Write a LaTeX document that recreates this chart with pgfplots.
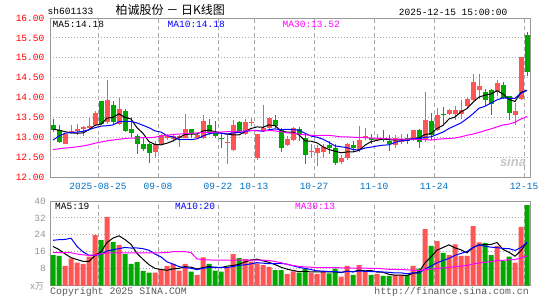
\documentclass[border=0pt]{standalone}
\usepackage{pgfplots}
\pgfplotsset{compat=1.18}
\usepackage{pgfplotstable}
\usepackage{fontspec}
\setmainfont{Liberation Sans}
\newfontfamily\mono{Liberation Mono}
\newfontfamily\cjk{Noto Sans CJK SC}
\definecolor{upc}{RGB}{255,85,85}
\definecolor{dnc}{RGB}{0,168,0}
\definecolor{lblred}{RGB}{255,0,0}
\definecolor{lblblue}{RGB}{0,112,192}
\definecolor{framec}{RGB}{153,153,153}
\definecolor{gridc}{RGB}{168,168,168}
\definecolor{ma10c}{RGB}{0,0,255}
\definecolor{ma30c}{RGB}{255,0,255}
\definecolor{volc}{RGB}{150,150,150}
\definecolor{footc}{RGB}{90,90,90}

\pgfplotstableread{
i o h l c v
2 12.83 13.09 12.82 13.07 9.3
3 13.13 13.30 13.08 13.16 12.9
4 13.15 13.33 13.05 13.20 10.8
5 13.20 13.28 13.02 13.26 10.2
6 13.24 13.49 13.18 13.28 13.7
7 13.32 13.67 13.28 13.60 23.8
9 13.38 14.43 13.33 13.93 32.5
11 13.33 14.00 13.30 13.70 19.1
17 12.62 12.90 12.51 12.83 6.1
18 12.83 13.09 12.80 13.05 7.7
19 12.97 13.07 12.92 13.03 9.3
20 12.96 13.06 12.88 13.03 10.2
21 12.99 13.05 12.75 13.02 7.1
22 12.99 13.58 12.97 13.22 10.2
24 12.98 13.10 12.95 13.05 5.0
25 12.98 13.57 12.95 13.41 13.3
29 12.87 13.05 12.33 12.89 8.6
30 12.68 13.44 12.65 13.30 14.9
32 13.09 13.47 13.06 13.38 12.6
33 13.37 13.48 13.28 13.39 11.3
34 12.49 13.09 12.42 13.07 10.5
35 13.16 13.80 13.14 13.24 9.7
36 13.24 13.51 13.22 13.48 8.8
39 12.80 13.03 12.78 12.95 5.5
40 12.93 13.27 12.90 13.24 6.7
43 12.64 12.83 12.49 12.66 6.0
44 12.61 12.80 12.28 12.74 5.5
45 12.63 12.83 12.49 12.76 6.9
48 12.38 12.55 12.33 12.49 4.2
49 12.49 12.86 12.44 12.83 9.3
51 12.68 13.28 12.63 12.93 9.7
52 12.97 13.24 12.92 13.02 6.6
54 12.93 13.08 12.90 12.99 5.5
57 12.80 13.05 12.74 12.97 4.9
58 12.88 13.08 12.84 12.95 4.9
60 12.93 13.19 12.91 13.17 9.3
62 12.93 14.15 12.88 13.43 26.7
64 13.18 13.73 13.15 13.57 21.0
66 13.59 13.72 13.55 13.68 14.4
67 13.58 13.78 13.43 13.69 19.5
68 13.58 13.93 13.45 13.69 14.0
69 13.78 14.01 13.74 13.96 14.0
70 13.93 14.59 13.90 14.40 28.1
71 14.19 14.59 13.97 14.30 20.4
74 14.13 14.43 14.05 14.375 18.8
77 13.55 13.86 13.30 13.66 10.8
78 13.97 15.02 13.93 15.01 27.8
}\up

\pgfplotstableread{
i o h l c v
0 13.30 13.45 13.12 13.18 14.4
1 13.18 13.30 12.86 12.88 14.0
8 13.91 13.92 13.30 13.33 21.5
10 13.80 13.91 13.34 13.38 20.7
12 13.65 13.70 13.12 13.16 14.9
13 13.20 13.50 13.01 13.11 10.2
14 13.03 13.09 12.58 12.84 11.1
15 12.82 13.00 12.66 12.71 6.9
16 12.82 12.85 12.36 12.61 6.1
23 13.20 13.22 12.97 13.09 6.6
26 13.30 13.45 13.05 13.13 10.2
27 13.12 13.40 12.98 13.02 7.1
28 12.99 13.09 12.74 12.95 6.6
31 13.38 13.41 13.12 13.16 13.0
37 13.43 13.55 13.24 13.28 7.3
38 13.18 13.24 12.63 12.72 7.3
41 13.21 13.26 12.91 13.09 6.1
42 12.97 13.10 12.33 12.55 8.0
46 12.80 12.91 12.59 12.74 5.8
47 12.72 12.83 12.30 12.34 8.0
50 12.80 12.91 12.63 12.74 5.0
53 12.97 13.08 12.84 12.93 5.0
55 12.97 13.17 12.88 12.95 4.6
56 12.90 13.05 12.66 12.83 4.6
59 12.97 13.09 12.84 12.91 4.9
61 13.17 13.22 12.74 12.88 8.0
63 13.40 13.62 12.93 13.05 18.7
65 13.59 13.76 13.34 13.57 15.5
72 14.15 14.22 13.78 13.93 20.2
73 14.18 14.22 13.57 13.84 14.4
75 14.32 14.38 13.95 13.99 11.6
76 14.03 14.05 13.43 13.61 13.7
79 15.56 15.66 14.55 14.63 38.0
}\down

\pgfplotstableread{
i m5 m10 m30 v5 v10 v30
0 13.20 12.93 12.69 18.5 21.4 15.6
1 13.18 13.03 12.71 17.0 21.7 15.6
2 13.14 13.10 12.73 15.0 21.8 15.6
3 13.11 13.12 12.74 13.2 22.4 15.5
4 13.10 13.13 12.76 12.28 18.5 14.9
5 13.11 13.15 12.78 11.44 15.9 14.5
6 13.19 13.19 12.81 11.38 14.3 14.3
7 13.30 13.24 12.85 14.28 14.3 14.4
8 13.33 13.28 12.88 16.0 14.8 15.0
9 13.48 13.29 12.91 20.34 16.31 15.4
10 13.50 13.31 12.93 22.44 16.94 15.5
11 13.59 13.39 12.95 23.52 17.45 15.5
12 13.50 13.40 12.97 21.74 18.01 15.5
13 13.46 13.40 12.98 19.48 17.74 15.5
14 13.24 13.36 12.98 15.2 17.77 15.5
15 13.10 13.30 12.99 12.44 17.44 15.5
16 12.89 13.24 12.99 9.84 16.68 15.5
17 12.82 13.16 13.00 8.08 14.91 15.5
18 12.81 13.13 13.03 7.58 13.53 15.5
19 12.85 13.04 13.05 7.22 11.21 15.6
20 12.91 13.01 13.07 7.88 10.16 16.0
21 12.99 12.94 13.08 8.08 8.96 16.1
22 13.07 12.95 13.09 8.9 8.49 16.0
23 13.08 12.94 13.10 8.68 8.13 15.6
24 13.08 12.96 13.11 7.82 7.52 12.6
25 13.16 13.03 13.12 8.44 8.16 12.2
26 13.18 13.09 13.12 9.06 8.57 12.1
27 13.14 13.11 13.13 8.44 8.67 12.0
28 13.11 13.10 13.13 8.44 8.56 12.0
29 13.08 13.08 13.14 9.16 8.49 12.00
30 13.06 13.11 13.14 9.48 8.96 12.02
31 13.06 13.12 13.15 10.04 9.55 11.99
32 13.14 13.14 13.16 11.14 9.79 12.10
33 13.22 13.17 13.17 12.08 10.26 12.04
34 13.26 13.17 13.16 12.46 10.81 12.04
35 13.25 13.15 13.16 11.68 10.58 12.01
36 13.31 13.19 13.17 10.96 10.36 11.84
37 13.29 13.21 13.16 9.92 10.37 11.31
38 13.16 13.19 13.14 8.66 10.45 10.84
39 13.13 13.20 13.11 7.72 10.14 9.94
40 13.13 13.19 13.10 7.12 9.34 9.48
41 13.06 13.18 13.08 6.56 8.59 9.03
42 12.91 13.10 13.06 6.72 8.11 8.79
43 12.90 13.03 13.05 6.42 7.54 8.64
44 12.86 13.00 13.04 6.46 6.94 8.46
45 12.76 12.95 13.05 6.5 6.79 8.45
46 12.69 12.87 13.05 6.44 6.60 8.43
47 12.65 12.78 13.03 6.44 6.58 8.49
48 12.61 12.76 13.01 6.08 6.26 8.37
49 12.63 12.74 13.01 6.84 6.67 8.39
50 12.63 12.69 13.00 6.46 6.48 8.22
51 12.67 12.68 13.00 7.24 6.86 8.31
52 12.80 12.73 12.99 6.96 6.7 8.19
53 12.89 12.75 12.98 7.12 6.6 8.13
54 12.92 12.78 12.98 6.36 6.6 8.15
55 12.96 12.80 12.97 6.28 6.37 7.86
56 12.94 12.81 12.96 5.26 6.25 7.67
57 12.93 12.87 12.95 4.92 5.94 7.6
58 12.94 12.91 12.95 4.9 6.01 7.54
59 12.92 12.92 12.95 4.78 5.57 7.42
60 12.97 12.97 12.95 5.72 6.0 7.23
61 12.98 12.96 12.94 6.4 5.83 7.07
62 13.07 13.00 12.94 10.76 7.84 7.54
63 13.09 13.01 12.93 13.52 9.21 7.78
64 13.22 13.07 12.95 16.74 10.76 8.09
65 13.30 13.13 12.96 17.98 11.85 8.31
66 13.46 13.22 12.97 19.26 12.83 8.54
67 13.51 13.29 12.98 17.82 14.29 8.95
68 13.64 13.36 13.01 16.88 15.2 9.17
69 13.72 13.47 13.05 15.48 16.11 9.45
70 13.88 13.59 13.08 18.0 17.99 10.16
71 14.01 13.73 13.12 19.2 19.23 10.63
72 14.06 13.78 13.17 19.34 18.58 11.04
73 14.09 13.86 13.21 19.42 18.15 11.32
74 14.17 13.94 13.26 20.38 17.93 11.76
75 14.09 13.99 13.31 17.08 17.54 11.92
76 13.95 13.98 13.33 15.74 17.47 12.18
77 13.90 13.98 13.38 13.86 16.6 12.28
78 14.13 14.11 13.46 16.54 17.98 13.06
79 14.18 14.18 13.52 20.38 20.38 14.02
}\ma

\pgfplotsset{
  kstyle/.style={
    scale only axis, width=480pt, xmin=-0.5, xmax=79.5,
    axis line style={framec, line width=1pt},
    major tick length=0pt, minor tick num=0,
    xtick={7.5,17.5,27.5,33.5,43.5,53.5,63.5,78.5},
    xmajorgrids, ymajorgrids,
    x grid style={gridc, line width=1pt, dash pattern=on 4pt off 3pt},
    y grid style={gridc, line width=1pt, dash pattern=on 1pt off 2pt},
  },
  wick/.style={draw=none, mark=none,
    error bars/.cd, y dir=both, y explicit, error mark=none,
    error bar style={draw=#1, solid, line width=1pt, line cap=butt}},
  body/.style={draw=none, mark=none,
    error bars/.cd, y dir=both, y explicit, error mark=none,
    error bar style={draw=#1, solid, line width=5pt, line cap=butt}},
}
\newcommand{\lf}{\mono\fontsize{9.5}{11}\selectfont}

\begin{document}
\begin{tikzpicture}[x=1pt,y=1pt]
\path[use as bounding box] (0,0) rectangle (545,300);

% ---------- price panel ----------
\begin{axis}[kstyle, at={(50pt,123pt)}, anchor=south west, height=159pt,
  ymin=12, ymax=16,
  ytick={12,12.5,13,13.5,14,14.5,15,15.5,16},
  yticklabels={12.00,12.50,13.00,13.50,14.00,14.50,15.00,15.50,16.00},
  yticklabel style={font=\lf, text=lblred, anchor=east, inner sep=0pt, xshift=-5.5pt},
  xticklabels={2025-08-25,09-08,09-22,10-13,10-27,11-10,11-24,12-15},
  xticklabel style={font=\lf, text=lblblue, anchor=north, inner sep=0pt, yshift=-5.5pt},
]
\addplot[wick=upc] table[x=i, y expr={(\thisrow{h}+\thisrow{l})/2}, y error expr={(\thisrow{h}-\thisrow{l})/2}] {\up};
\addplot[wick=dnc] table[x=i, y expr={(\thisrow{h}+\thisrow{l})/2}, y error expr={(\thisrow{h}-\thisrow{l})/2}] {\down};
\addplot[body=upc] table[x=i, y expr={(\thisrow{o}+\thisrow{c})/2}, y error expr={max(abs(\thisrow{c}-\thisrow{o})/2,0.0126)}] {\up};
\addplot[body=dnc] table[x=i, y expr={(\thisrow{o}+\thisrow{c})/2}, y error expr={max(abs(\thisrow{c}-\thisrow{o})/2,0.0126)}] {\down};
\addplot[black, line width=1pt, mark=none] table[x=i, y=m5] {\ma};
\addplot[ma10c, line width=1pt, mark=none] table[x=i, y=m10] {\ma};
\addplot[ma30c, line width=1pt, mark=none] table[x=i, y=m30] {\ma};
\end{axis}

% ---------- volume panel ----------
\begin{axis}[kstyle, at={(50pt,14.5pt)}, anchor=south west, height=84.5pt,
  ymin=0, ymax=40,
  ytick={8,16,24,32,40},
  yticklabels={8,16,24,32,40},
  yticklabel style={font=\lf, text=volc, anchor=east, inner sep=0pt, xshift=-4pt},
  xticklabels={},
]
\addplot[ybar, bar width=5pt, bar shift=0pt, fill=upc, draw=none] table[x=i, y=v] {\up};
\addplot[ybar, bar width=5pt, bar shift=0pt, fill=dnc, draw=none] table[x=i, y=v] {\down};
\addplot[black, line width=1pt, mark=none] table[x=i, y=v5] {\ma};
\addplot[ma10c, line width=1pt, mark=none] table[x=i, y=v10] {\ma};
\addplot[ma30c, line width=1pt, mark=none] table[x=i, y=v30] {\ma};
\end{axis}

% ---------- texts ----------
\node[anchor=west, inner sep=0pt, font=\lf] at (47.5,289) {sh601133};
\node[anchor=west, inner sep=0pt, font=\cjk\fontsize{12}{13}\selectfont] at (115.5,290) {柏诚股份 － 日K线图};
\node[anchor=east, inner sep=0pt, font=\lf] at (507.5,288) {2025-12-15 15:00:00};

\node[anchor=west, inner sep=0pt, font=\lf] at (52.5,276) {MA5:14.18};
\node[anchor=west, inner sep=0pt, font=\lf, text=ma10c] at (167.5,276) {MA10:14.18};
\node[anchor=west, inner sep=0pt, font=\lf, text=ma30c] at (282.5,276) {MA30:13.52};

\node[anchor=west, inner sep=0pt, font=\lf] at (55,94) {MA5:19};
\node[anchor=west, inner sep=0pt, font=\lf, text=ma10c] at (175,94) {MA10:20};
\node[anchor=west, inner sep=0pt, font=\lf, text=ma30c] at (295,94) {MA30:13};

\node[anchor=east, inner sep=0pt, font=\cjk\fontsize{9}{10}\selectfont, text=volc] at (44,14) {x万};
\node[anchor=west, inner sep=0pt, font=\mono\fontsize{9.9}{11}\selectfont, text=footc] at (50,8) {Copyright 2025 SINA.COM};
\node[anchor=east, inner sep=0pt, font=\mono\fontsize{9.9}{11}\selectfont, text=footc] at (529,8) {http://finance.sina.com.cn};

\node[inner sep=0pt, text=gray!45, font=\bfseries\itshape\fontsize{13}{13}\selectfont] at (513,138) {sina};
\end{tikzpicture}
\end{document}
